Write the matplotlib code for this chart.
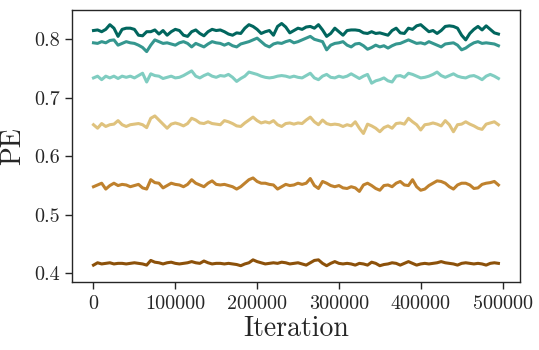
import numpy as np
import matplotlib
matplotlib.use("Agg")
import matplotlib.pyplot as plt

plt.rcParams['font.family'] = ['cmr10', 'DejaVu Serif']
plt.rcParams['mathtext.fontset'] = 'cm'
plt.rcParams['axes.formatter.use_mathtext'] = True
plt.rcParams['axes.unicode_minus'] = False

step = 5000
n_points = 100

pe_brown = [0.414, 0.418, 0.416, 0.417, 0.418, 0.416, 0.417, 0.417, 0.416, 0.417,
            0.418, 0.417, 0.416, 0.414, 0.422, 0.419, 0.418, 0.416, 0.418, 0.419,
            0.417, 0.416, 0.417, 0.418, 0.420, 0.418, 0.417, 0.421, 0.418, 0.416,
            0.417, 0.417, 0.416, 0.417, 0.416, 0.415, 0.413, 0.416, 0.418, 0.423,
            0.420, 0.418, 0.416, 0.417, 0.418, 0.417, 0.419, 0.418, 0.416, 0.417,
            0.418, 0.416, 0.414, 0.418, 0.422, 0.423, 0.417, 0.413, 0.417, 0.420,
            0.417, 0.416, 0.417, 0.416, 0.414, 0.417, 0.416, 0.414, 0.419, 0.417,
            0.413, 0.415, 0.416, 0.418, 0.417, 0.414, 0.417, 0.420, 0.417, 0.414,
            0.416, 0.417, 0.416, 0.417, 0.418, 0.420, 0.418, 0.417, 0.416, 0.414,
            0.417, 0.418, 0.417, 0.416, 0.417, 0.416, 0.414, 0.417, 0.418, 0.417]

pe_orange = [0.548, 0.551, 0.554, 0.544, 0.550, 0.554, 0.550, 0.552, 0.551, 0.548,
             0.550, 0.552, 0.546, 0.544, 0.560, 0.555, 0.554, 0.546, 0.550, 0.554,
             0.552, 0.551, 0.548, 0.552, 0.560, 0.554, 0.551, 0.548, 0.554, 0.558,
             0.552, 0.551, 0.552, 0.550, 0.548, 0.544, 0.548, 0.554, 0.560, 0.563,
             0.557, 0.554, 0.554, 0.552, 0.551, 0.544, 0.548, 0.552, 0.550, 0.551,
             0.554, 0.552, 0.554, 0.562, 0.550, 0.545, 0.557, 0.554, 0.550, 0.548,
             0.550, 0.546, 0.545, 0.548, 0.546, 0.540, 0.551, 0.554, 0.550, 0.545,
             0.542, 0.550, 0.551, 0.548, 0.554, 0.557, 0.551, 0.550, 0.560, 0.548,
             0.542, 0.544, 0.550, 0.554, 0.558, 0.557, 0.554, 0.548, 0.544, 0.551,
             0.554, 0.554, 0.551, 0.545, 0.546, 0.552, 0.554, 0.555, 0.557, 0.551]

pe_tan = [0.654, 0.648, 0.656, 0.651, 0.654, 0.655, 0.661, 0.654, 0.651, 0.654,
          0.655, 0.656, 0.654, 0.649, 0.665, 0.669, 0.662, 0.655, 0.648, 0.655,
          0.657, 0.655, 0.652, 0.656, 0.665, 0.662, 0.657, 0.656, 0.659, 0.656,
          0.655, 0.654, 0.661, 0.659, 0.656, 0.652, 0.651, 0.657, 0.662, 0.667,
          0.661, 0.657, 0.659, 0.657, 0.661, 0.654, 0.651, 0.656, 0.657, 0.655,
          0.657, 0.656, 0.662, 0.667, 0.659, 0.654, 0.662, 0.656, 0.654, 0.655,
          0.654, 0.651, 0.654, 0.652, 0.659, 0.648, 0.639, 0.655, 0.652, 0.648,
          0.642, 0.649, 0.652, 0.648, 0.656, 0.657, 0.655, 0.665, 0.659, 0.654,
          0.645, 0.654, 0.655, 0.657, 0.655, 0.652, 0.661, 0.654, 0.642, 0.654,
          0.655, 0.659, 0.655, 0.652, 0.648, 0.646, 0.655, 0.657, 0.659, 0.654]

pe_lightteal = [0.734, 0.737, 0.731, 0.737, 0.734, 0.737, 0.733, 0.737, 0.735, 0.737,
                0.734, 0.738, 0.742, 0.727, 0.741, 0.738, 0.737, 0.733, 0.735, 0.737,
                0.734, 0.735, 0.738, 0.742, 0.746, 0.737, 0.734, 0.738, 0.741, 0.737,
                0.735, 0.738, 0.737, 0.740, 0.735, 0.728, 0.733, 0.737, 0.744, 0.742,
                0.740, 0.737, 0.735, 0.734, 0.735, 0.737, 0.738, 0.737, 0.735, 0.737,
                0.735, 0.734, 0.738, 0.742, 0.734, 0.731, 0.737, 0.740, 0.735, 0.734,
                0.737, 0.735, 0.737, 0.741, 0.737, 0.733, 0.737, 0.740, 0.725, 0.729,
                0.731, 0.734, 0.729, 0.727, 0.737, 0.738, 0.735, 0.742, 0.740, 0.737,
                0.734, 0.735, 0.737, 0.740, 0.744, 0.738, 0.735, 0.738, 0.741, 0.737,
                0.735, 0.734, 0.737, 0.738, 0.735, 0.731, 0.737, 0.740, 0.737, 0.733]

pe_teal = [0.794, 0.793, 0.796, 0.794, 0.798, 0.799, 0.790, 0.793, 0.796, 0.794,
           0.793, 0.790, 0.786, 0.779, 0.790, 0.799, 0.796, 0.793, 0.794, 0.792,
           0.790, 0.794, 0.796, 0.793, 0.787, 0.793, 0.790, 0.787, 0.792, 0.796,
           0.794, 0.793, 0.790, 0.793, 0.789, 0.787, 0.792, 0.794, 0.796, 0.799,
           0.802, 0.796, 0.790, 0.787, 0.792, 0.794, 0.793, 0.796, 0.798, 0.794,
           0.796, 0.799, 0.802, 0.805, 0.800, 0.798, 0.796, 0.782, 0.790, 0.793,
           0.794, 0.796, 0.790, 0.787, 0.792, 0.793, 0.789, 0.783, 0.786, 0.790,
           0.787, 0.789, 0.785, 0.789, 0.792, 0.793, 0.796, 0.799, 0.796, 0.793,
           0.794, 0.792, 0.796, 0.793, 0.790, 0.787, 0.792, 0.793, 0.794, 0.790,
           0.782, 0.785, 0.790, 0.794, 0.796, 0.793, 0.794, 0.793, 0.792, 0.789]

pe_darkteal = [0.815, 0.816, 0.813, 0.817, 0.825, 0.819, 0.805, 0.817, 0.819, 0.819,
               0.817, 0.807, 0.806, 0.813, 0.813, 0.816, 0.809, 0.815, 0.807, 0.813,
               0.817, 0.815, 0.807, 0.805, 0.813, 0.816, 0.810, 0.806, 0.813, 0.817,
               0.815, 0.816, 0.813, 0.809, 0.807, 0.811, 0.810, 0.819, 0.825, 0.822,
               0.817, 0.810, 0.813, 0.815, 0.807, 0.822, 0.827, 0.821, 0.811, 0.815,
               0.819, 0.817, 0.821, 0.822, 0.819, 0.825, 0.816, 0.805, 0.810, 0.819,
               0.813, 0.807, 0.815, 0.816, 0.816, 0.815, 0.811, 0.810, 0.813, 0.810,
               0.811, 0.809, 0.807, 0.815, 0.819, 0.811, 0.810, 0.819, 0.817, 0.823,
               0.825, 0.819, 0.813, 0.815, 0.810, 0.815, 0.822, 0.823, 0.822, 0.819,
               0.807, 0.799, 0.810, 0.817, 0.822, 0.816, 0.823, 0.817, 0.811, 0.809]

series = [pe_brown, pe_orange, pe_tan, pe_lightteal, pe_teal, pe_darkteal]
colors = ['#8c510a', '#bf812d', '#dfc27d', '#80cdc1', '#35978f', '#01665e']

iterations = np.arange(n_points) * step

fig = plt.figure(figsize=(5.39, 3.5), dpi=100)
ax = fig.add_axes([0.1345, 0.1934, 0.8303, 0.7772])

for vals, c in zip(series, colors):
    ax.plot(iterations, vals, color=c, lw=2.2, solid_joinstyle='round')

ax.set_xlim(-25670, 521400)
ax.set_ylim(0.3846, 0.8496)
ax.set_xticks([0, 100000, 200000, 300000, 400000, 500000])
ax.set_yticks([0.4, 0.5, 0.6, 0.7, 0.8])
ax.set_xticklabels(['0', '100000', '200000', '300000', '400000', '500000'])
ax.set_yticklabels(['0.4', '0.5', '0.6', '0.7', '0.8'])

for sp in ax.spines.values():
    sp.set_color('#262626')
    sp.set_linewidth(1.0)
ax.tick_params(axis='both', which='major', labelsize=14.5, length=5, width=1,
               color='#262626', labelcolor='#262626', direction='out',
               top=False, right=False, pad=4)

ax.set_xlabel('Iteration', fontsize=20, color='#262626', labelpad=2)
ax.set_ylabel('PE', fontsize=20, color='#262626', labelpad=6)

fig.savefig('out.png', dpi=100)
